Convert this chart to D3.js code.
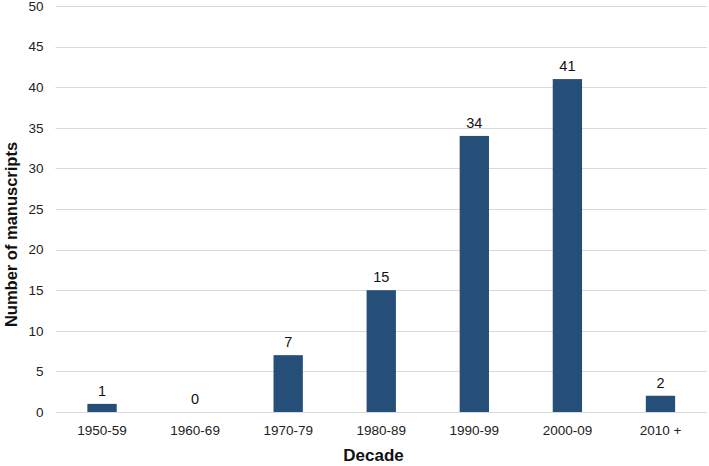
<!DOCTYPE html>
<html><head><meta charset="utf-8">
<script src="https://cdn.jsdelivr.net/npm/d3@7"></script>
<style>body{margin:0;background:#fff}svg{display:block;font-family:"Liberation Sans",Arial,sans-serif}</style>
</head><body>
<svg id="c" width="709" height="466"></svg>
<script>
const categories = ["1950-59","1960-69","1970-79","1980-89","1990-99","2000-09","2010 +"];
const values = [1,0,7,15,34,41,2];
const yTicks = [0,5,10,15,20,25,30,35,40,45,50];

const svg = d3.select("#c");
const m = {left:55.5, right:2, top:6, bottom:54};
const W = 709, H = 466;
const x = d3.scaleBand().domain(categories).range([m.left, W - m.right]).paddingInner(0.685).paddingOuter(0.3425);
const y = d3.scaleLinear().domain([0,50]).range([H - m.bottom, m.top]);

// gridlines
svg.append("g").selectAll("line").data(yTicks).join("line")
  .attr("x1", m.left).attr("x2", W - m.right)
  .attr("y1", d => Math.round(y(d)) + 0.5).attr("y2", d => Math.round(y(d)) + 0.5)
  .attr("stroke", "#d9d9d9").attr("stroke-width", 1);

// y axis labels
const ya = svg.append("g").attr("transform", `translate(${m.left},0)`)
  .call(d3.axisLeft(y).tickValues(yTicks).tickSize(0).tickPadding(12));
ya.select(".domain").remove();
ya.selectAll("text").attr("font-size", 13.5).attr("fill", "#222").attr("font-family", "Liberation Sans, Arial, sans-serif");

// x axis labels
const xa = svg.append("g").attr("transform", `translate(0,${y(0)})`)
  .call(d3.axisBottom(x).tickSize(0).tickPadding(13));
xa.select(".domain").remove();
xa.selectAll("text").attr("font-size", 13.5).attr("fill", "#222").attr("font-family", "Liberation Sans, Arial, sans-serif");

// bars
svg.append("g").selectAll("rect").data(values).join("rect")
  .attr("x", (d,i) => x(categories[i])).attr("width", x.bandwidth())
  .attr("y", d => y(d)).attr("height", d => y(0) - y(d))
  .attr("fill", "#254e79");

// value labels
svg.append("g").selectAll("text").data(values).join("text")
  .attr("x", (d,i) => x(categories[i]) + x.bandwidth()/2)
  .attr("y", d => y(d) - 8)
  .attr("text-anchor", "middle").attr("font-size", 14.5).attr("fill", "#111")
  .text(d => d);

// axis titles
svg.append("text").attr("x", 373.5).attr("y", 461)
  .attr("text-anchor", "middle").attr("font-size", 17).attr("font-weight", "bold").attr("fill", "#111")
  .text("Decade");
svg.append("text").attr("transform", `translate(16.5,234.5) rotate(-90)`)
  .attr("text-anchor", "middle").attr("font-size", 16.5).attr("font-weight", "bold").attr("fill", "#111")
  .text("Number of manuscripts");
</script>
</body></html>
